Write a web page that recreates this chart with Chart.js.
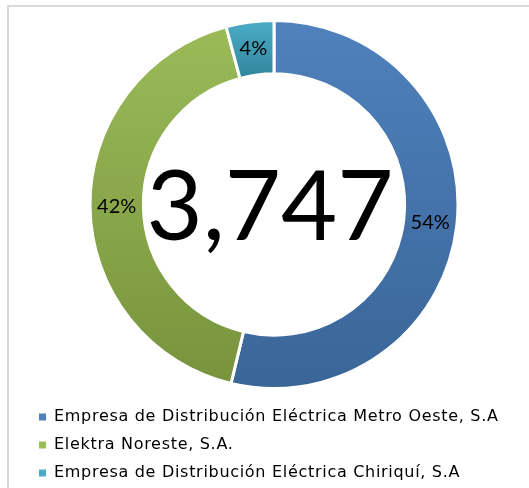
<!DOCTYPE html>
<html>
<head>
<meta charset="utf-8">
<script src="https://cdn.jsdelivr.net/npm/chart.js@4/dist/chart.umd.min.js"></script>
<style>
  html, body { margin: 0; padding: 0; background: #ffffff; }
  #wrap { position: relative; width: 529px; height: 488px; overflow: hidden; }
  #frame { position: absolute; left: 7px; top: 5px; width: 600px; height: 600px; border: 2px solid #d9d9d9; box-sizing: border-box; }
  #c { position: absolute; left: 0; top: 0; }
</style>
</head>
<body>
<div id="wrap">
  <div id="frame"></div>
  <canvas id="c" width="529" height="491"></canvas>
</div>
<script>
const categories = [
  'Empresa de Distribución Eléctrica Metro Oeste, S.A',
  'Elektra Noreste, S.A.',
  'Empresa de Distribución Eléctrica Chiriquí, S.A'
];
const values = [2014, 1576, 157];
const baseColors = ['#4F81BD', '#9BBB59', '#4BACC6'];
const darkColors = ['#3A6597', '#77933C', '#31859C'];
const gradientEnd = [1, 1, 0.16];

const total = values.reduce((a, b) => a + b, 0);

function segmentFill(ctx) {
  const chart = ctx.chart;
  const area = chart.chartArea;
  const i = ctx.dataIndex;
  if (!area || i === undefined) return baseColors[i] || baseColors[0];
  const cy = (area.top + area.bottom) / 2;
  const r = 184;
  const y0 = cy - r;
  const y1 = y0 + 2 * r * gradientEnd[i];
  const g = chart.ctx.createLinearGradient(0, y0, 0, y1);
  g.addColorStop(0, baseColors[i]);
  g.addColorStop(1, darkColors[i]);
  return g;
}

const spacingPlugin = {
  id: 'spacingPlugin',
  beforeInit(chart) { chart.ctx.letterSpacing = '0.7px'; },
  beforeUpdate(chart) { chart.ctx.letterSpacing = '0.7px'; },
  beforeDraw(chart) { chart.ctx.letterSpacing = '0.7px'; }
};

const labelPlugin = {
  id: 'labelPlugin',
  afterDatasetsDraw(chart) {
    const ctx = chart.ctx;
    const meta = chart.getDatasetMeta(0);
    ctx.save();
    ctx.letterSpacing = '0px';
    ctx.fillStyle = '#000000';
    ctx.textAlign = 'center';
    ctx.textBaseline = 'middle';
    ctx.font = '20px Lato';
    meta.data.forEach((arc, i) => {
      const p = arc.tooltipPosition();
      const pct = Math.round(values[i] / total * 100) + '%';
      ctx.fillText(pct, p.x, p.y);
    });
    const area = chart.chartArea;
    const cx = (area.left + area.right) / 2;
    const cy = (area.top + area.bottom) / 2;
    ctx.font = '97px Lato';
    ctx.textBaseline = 'alphabetic';
    ctx.fillText(total.toLocaleString('en-US'), cx - 4, cy + 35);
    ctx.restore();
  }
};

new Chart(document.getElementById('c'), {
  type: 'doughnut',
  data: {
    labels: categories,
    datasets: [{
      data: values,
      backgroundColor: segmentFill,
      borderColor: '#ffffff',
      borderWidth: 3,
      hoverOffset: 0
    }]
  },
  options: {
    responsive: false,
    devicePixelRatio: 1,
    animation: false,
    radius: 184,
    cutout: '71%',
    layout: { padding: { top: 12, bottom: 0, left: 27, right: 8 } },
    plugins: {
      tooltip: { enabled: false },
      legend: {
        position: 'bottom',
        align: 'start',
        labels: {
          boxWidth: 7,
          boxHeight: 7,
          padding: 12,
          color: '#595959',
          font: { family: 'DejaVu Sans', size: 16 },
          generateLabels(chart) {
            return categories.map((name, i) => ({
              text: name,
              fillStyle: baseColors[i],
              strokeStyle: baseColors[i],
              lineWidth: 0,
              hidden: false,
              index: i
            }));
          }
        }
      }
    }
  },
  plugins: [spacingPlugin, labelPlugin]
});
</script>
</body>
</html>
